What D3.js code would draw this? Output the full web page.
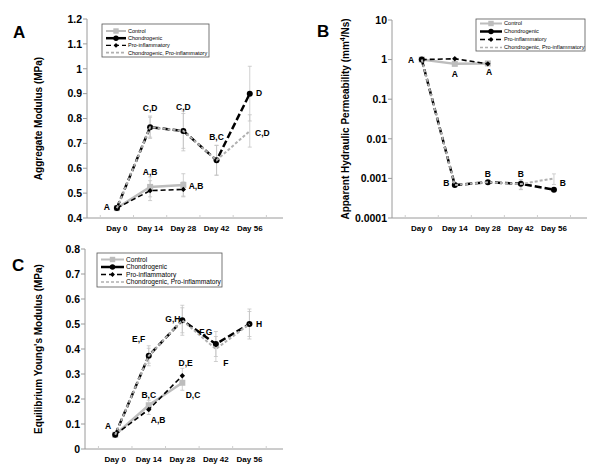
<!DOCTYPE html>
<html>
<head>
<meta charset="utf-8">
<script src="https://cdn.jsdelivr.net/npm/d3@7"></script>
<style>
  body { margin: 0; background: #fff; }
  text { font-family: "Liberation Sans", Arial, sans-serif; }
</style>
</head>
<body>
<svg id="chart" width="600" height="472"></svg>
<script>
// Days on the x axis (all three panels)
const days = ["Day 0", "Day 14", "Day 28", "Day 42", "Day 56"];
const seriesNames = ["Control", "Chondrogenic", "Pro-inflammatory", "Chondrogenic, Pro-inflammatory"];

// Panel A - aggregate modulus (MPa): mean and SD
const aggControl = [0.44, 0.525, 0.533];
const aggControlSd = [0.01, 0.04, 0.045];
const aggChondro = [0.44, 0.765, 0.75, 0.632, 0.9];
const aggChondroSd = [0.01, 0.045, 0.08, 0.06, 0.11];
const aggPro = [0.44, 0.51, 0.515];
const aggProSd = [0.01, 0.04, 0.03];
const aggBoth = [0.44, 0.765, 0.75, 0.632, 0.75];
const aggBothSd = [0.01, 0.04, 0.07, 0.06, 0.065];
const aggTicks = [0.4, 0.5, 0.6, 0.7, 0.8, 0.9, 1, 1.1, 1.2];
// significance letters: [text, day index, value]
const aggLetters = [["A", -0.3, 0.444], ["C,D", 1, 0.842], ["C,D", 2, 0.846], ["B,C", 3, 0.725],
  ["D", 4.28, 0.902], ["C,D", 4.38, 0.741], ["A,B", 1, 0.585], ["A,B", 2.38, 0.528]];

// Panel B - apparent hydraulic permeability (mm^4/Ns)
const permControl = [1.0, 0.78, 0.8];
const permControlSd = [0.05, 0.06, 0.05];
const permChondro = [1.0, 0.00068, 0.0008, 0.00073, 0.00052];
const permChondroSd = [0.05, 0.00005, 0.00005, 0.0002, 0.00005];
const permPro = [1.0, 1.05, 0.78];
const permProSd = [0.05, 0.05, 0.05];
const permBoth = [1.0, 0.00068, 0.0008, 0.00072, 0.001];
const permBothSd = [0.05, 0.00005, 0.00005, 0.0002, 0.0003];
const permTicks = [0.0001, 0.001, 0.01, 0.1, 1, 10];
const permLetters = [["A", -0.32, 1], ["A", 1.0, 0.43], ["A", 2.04, 0.48], ["B", 0.74, 0.00077],
  ["B", 2.0, 0.00129], ["B", 3.0, 0.00129], ["B", 4.27, 0.00077]];

// Panel C - equilibrium Young's modulus (MPa)
const ymControl = [0.057, 0.175, 0.265];
const ymControlSd = [0.005, 0.02, 0.03];
const ymChondro = [0.057, 0.373, 0.515, 0.42, 0.5];
const ymChondroSd = [0.005, 0.04, 0.06, 0.05, 0.06];
const ymPro = [0.057, 0.158, 0.293];
const ymProSd = [0.005, 0.02, 0.03];
const ymBoth = [0.057, 0.373, 0.515, 0.4, 0.5];
const ymBothSd = [0.005, 0.03, 0.05, 0.05, 0.05];
const ymTicks = [0, 0.1, 0.2, 0.3, 0.4, 0.5, 0.6, 0.7, 0.8];
const ymLetters = [["A", -0.21, 0.092], ["E,F", 0.7, 0.44], ["G,H", 1.72, 0.52], ["F,G", 2.7, 0.47],
  ["F", 3.3, 0.345], ["H", 4.29, 0.5], ["D,E", 2.1, 0.344], ["B,C", 1.0, 0.216],
  ["A,B", 1.28, 0.116], ["D,C", 2.32, 0.216]];

// line styles for the four groups (drawn in this order)
const styles = [
  { color: "#bdbdbd", width: 2.5, dash: null, marker: "square" },
  { color: "#000", width: 2.5, dash: "7,3", marker: "circle" },
  { color: "#000", width: 1.6, dash: "5,3", marker: "diamond" },
  { color: "#b0b0b0", width: 2, dash: "3,2", marker: null }
];

const svg = d3.select("#chart");

function drawPanel(cfg) {
  const g = svg.append("g");
  const x = d3.scaleLinear().domain([-0.9, 5.0]).range([cfg.left, cfg.right]);
  const y = cfg.y;

  // axes
  g.append("line").attr("x1", cfg.left).attr("x2", cfg.left)
    .attr("y1", cfg.top).attr("y2", cfg.bottom).attr("stroke", "#9a9a9a");
  g.append("line").attr("x1", cfg.left).attr("x2", cfg.right)
    .attr("y1", cfg.bottom).attr("y2", cfg.bottom).attr("stroke", "#9a9a9a");

  cfg.ticks.forEach(t => {
    g.append("line").attr("x1", cfg.left - 4).attr("x2", cfg.left)
      .attr("y1", y(t)).attr("y2", y(t)).attr("stroke", "#9a9a9a");
    g.append("text").attr("x", cfg.left - 5).attr("y", y(t)).attr("dy", "0.36em")
      .attr("text-anchor", "end").attr("font-size", 10.5).attr("font-weight", "bold")
      .text(cfg.tickFormat ? cfg.tickFormat(t) : t);
  });

  // small ticks on the x axis between categories
  d3.range(0, 6).forEach(i => {
    const xp = x(i - 0.5);
    g.append("line").attr("x1", xp).attr("x2", xp)
      .attr("y1", cfg.bottom).attr("y2", cfg.bottom - 3).attr("stroke", "#cfcfcf");
  });

  days.forEach((d, i) => {
    g.append("text").attr("x", x(i)).attr("y", cfg.bottom + 13)
      .attr("text-anchor", "middle").attr("font-size", 8).attr("font-weight", "bold").text(d);
  });

  // y title
  g.append("text")
    .attr("transform", `translate(${cfg.titleX},${(cfg.top + cfg.bottom) / 2}) rotate(-90)`)
    .attr("text-anchor", "middle").attr("font-size", 10).attr("font-weight", "bold")
    .html(cfg.title);

  // panel letter
  g.append("text").attr("x", cfg.letterX).attr("y", cfg.letterY)
    .attr("font-size", 17).attr("font-weight", "bold").text(cfg.letter);

  // error bars
  cfg.series.forEach((s) => {
    s.values.forEach((v, i) => {
      const lo = y(Math.max(v - s.sd[i], y.domain()[0]));
      const hi = y(v + s.sd[i]);
      g.append("line").attr("x1", x(i)).attr("x2", x(i)).attr("y1", lo).attr("y2", hi)
        .attr("stroke", "#c4c4c4").attr("stroke-width", 0.8);
      [lo, hi].forEach(yy => g.append("line").attr("x1", x(i) - 2).attr("x2", x(i) + 2)
        .attr("y1", yy).attr("y2", yy).attr("stroke", "#c4c4c4").attr("stroke-width", 0.8));
    });
  });

  // lines and markers
  const line = d3.line().x((d, i) => x(i)).y(d => y(d));
  cfg.series.forEach((s, k) => {
    const st = styles[k];
    g.append("path").datum(s.values).attr("d", line)
      .attr("fill", "none").attr("stroke", st.color).attr("stroke-width", st.width)
      .attr("stroke-dasharray", st.dash);
    s.values.forEach((v, i) => drawMarker(g, st, x(i), y(v), 1));
  });

  // significance letters
  cfg.letters.forEach(([t, i, v]) => {
    g.append("text").attr("x", x(i)).attr("y", y(v)).attr("dy", "0.36em")
      .attr("text-anchor", "middle").attr("font-size", 8.5).attr("font-weight", "bold").text(t);
  });

  // legend
  const L = cfg.legend;
  g.append("rect").attr("x", L.x).attr("y", L.y).attr("width", L.w).attr("height", L.h)
    .attr("fill", "#fff").attr("stroke", "#555").attr("stroke-width", 0.8);
  seriesNames.forEach((name, k) => {
    const st = styles[k];
    const yy = L.y + L.rowTop + k * L.rowStep;
    g.append("line").attr("x1", L.x + 4).attr("x2", L.x + 4 + L.sample).attr("y1", yy).attr("y2", yy)
      .attr("stroke", st.color).attr("stroke-width", k === 1 ? 2.5 : st.width * 0.8)
      .attr("stroke-dasharray", k < 2 ? null : st.dash);
    drawMarker(g, st, L.x + 4 + L.sample / 2, yy, 0.9);
    g.append("text").attr("x", L.x + 6 + L.sample).attr("y", yy).attr("dy", "0.35em")
      .attr("font-size", L.font).text(name);
  });
}

function drawMarker(g, st, cx, cy, s) {
  if (st.marker === "circle") {
    g.append("circle").attr("cx", cx).attr("cy", cy).attr("r", 3 * s).attr("fill", st.color);
  } else if (st.marker === "square") {
    g.append("rect").attr("x", cx - 3 * s).attr("y", cy - 3 * s).attr("width", 6 * s).attr("height", 6 * s)
      .attr("fill", st.color);
  } else if (st.marker === "diamond") {
    g.append("path").attr("d", d3.symbol(d3.symbolDiamond2, 18 * s * s)()).attr("transform", `translate(${cx},${cy})`)
      .attr("fill", st.color);
  }
}

// Panel A
drawPanel({
  letter: "A", letterX: 13, letterY: 38,
  left: 87, right: 283, top: 19, bottom: 218, titleX: 42,
  y: d3.scaleLinear().domain([0.4, 1.2]).range([218, 19]),
  ticks: aggTicks,
  title: "Aggregate Modulus (MPa)",
  series: [
    { values: aggControl, sd: aggControlSd },
    { values: aggChondro, sd: aggChondroSd },
    { values: aggPro, sd: aggProSd },
    { values: aggBoth, sd: aggBothSd }
  ],
  letters: aggLetters,
  legend: { x: 102, y: 24, w: 107, h: 33, rowTop: 7, rowStep: 7.2, sample: 20, font: 5.5 }
});

// Panel B (log scale)
drawPanel({
  letter: "B", letterX: 317, letterY: 37,
  left: 392, right: 587, top: 20, bottom: 218, titleX: 349,
  y: d3.scaleLog().domain([0.0001, 10]).range([218, 20]),
  ticks: permTicks,
  tickFormat: t => t >= 1 ? String(t) : t.toFixed(Math.round(-Math.log10(t))),
  title: "Apparent Hydraulic Permeability (mm<tspan dy='-4' font-size='7'>4</tspan><tspan dy='4'>/Ns)</tspan>",
  series: [
    { values: permControl, sd: permControlSd },
    { values: permChondro, sd: permChondroSd },
    { values: permPro, sd: permProSd },
    { values: permBoth, sd: permBothSd }
  ],
  letters: permLetters,
  legend: { x: 476, y: 19, w: 109, h: 32, rowTop: 4.5, rowStep: 8, sample: 22, font: 5.6 }
});

// Panel C
drawPanel({
  letter: "C", letterX: 12, letterY: 271,
  left: 85, right: 283, top: 249, bottom: 449, titleX: 42,
  y: d3.scaleLinear().domain([0, 0.8]).range([449, 249]),
  ticks: ymTicks,
  title: "Equilibrium Young's Modulus (MPa)",
  series: [
    { values: ymControl, sd: ymControlSd },
    { values: ymChondro, sd: ymChondroSd },
    { values: ymPro, sd: ymProSd },
    { values: ymBoth, sd: ymBothSd }
  ],
  letters: ymLetters,
  legend: { x: 97, y: 253, w: 125, h: 34, rowTop: 6.5, rowStep: 7.5, sample: 23, font: 6.6 }
});
</script>
</body>
</html>
